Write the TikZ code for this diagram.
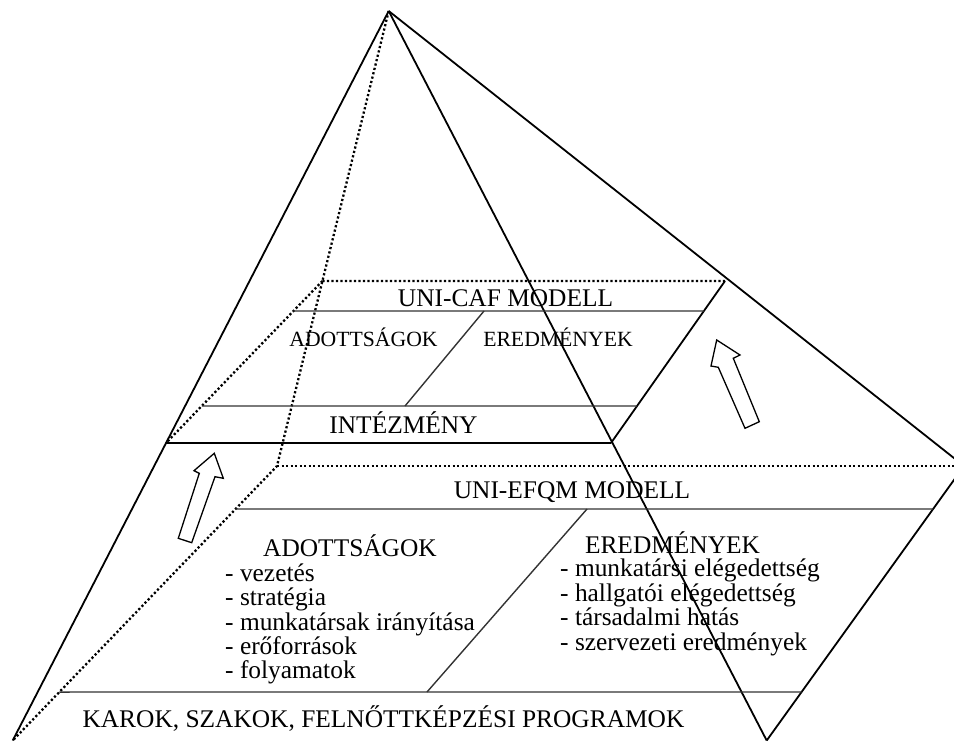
\documentclass[tikz,border=0pt]{standalone}
\usepackage{fontspec}
\setmainfont{Liberation Serif}
\begin{document}
\begin{tikzpicture}[x=1pt,y=-1pt,
  edge/.style={line width=1.8pt, line join=miter},
  inner/.style={line width=1.4pt, black!80},
  dotline/.style={line width=2.3pt, dash pattern=on 2.2pt off 2.3pt},
  blockarrow/.style={line width=1.3pt, fill=white, line join=miter},
  big/.style={font=\fontsize{25.4}{30}\selectfont, inner sep=0pt, anchor=base},
  small/.style={font=\fontsize{21.7}{26}\selectfont, inner sep=0pt, anchor=base},
  item/.style={font=\fontsize{25.4}{30}\selectfont, inner sep=0pt, anchor=base west}]
\useasboundingbox (0,0) rectangle (954,742);
\clip (0,0) rectangle (954,742);
% vertices
\coordinate (A) at (388.7,11);
\coordinate (FL) at (12.7,740.5);
\coordinate (FR) at (766.7,740.5);
\coordinate (R) at (964,466);
\coordinate (D3) at (277,466);
\coordinate (D1) at (intersection of A--D3 and 0,281--900,281);
\coordinate (D2) at (725,281);
\coordinate (E1) at (intersection of A--FL and 0,443--900,443);
\coordinate (E2) at (611,443);
% pyramid edges
\draw[edge] (A) -- (FL);
\draw[edge] (A) -- (FR);
\draw[edge] (A) -- (R) -- (FR);
\draw[dotline] (A) -- (D3) -- (FL);
\draw[dotline] (D3) -- (R);
% upper slice
\draw[dotline] (D1) -- (D2);
\draw[dotline] (D1) -- (E1);
\draw[edge] (D2) -- (E2);
\draw[inner] (intersection of D1--E1 and 0,311--900,311) -- (intersection of D2--E2 and 0,311--900,311);
\draw[inner] (intersection of D1--E1 and 0,406--900,406) -- (intersection of D2--E2 and 0,406--900,406);
\draw[edge] (E1) -- (E2);
\draw[inner] (484,311) -- (405,406);
% lower slice
\draw[inner] (intersection of D3--FL and 0,509--900,509) -- (intersection of R--FR and 0,509--900,509);
\draw[inner] (intersection of D3--FL and 0,692--900,692) -- (intersection of R--FR and 0,692--900,692);
\draw[inner] (587,509) -- (427,692);
% block arrows
\draw[blockarrow] (214.3,453.3) -- (223.3,478.3) -- (215,476.7) -- (191.7,542.7) -- (178.3,538.3) -- (199.3,473.3) -- (194,470.7) -- cycle;
\draw[blockarrow] (716.7,340) -- (740,355) -- (733.3,358.3) -- (759.3,421.7) -- (745,428.3) -- (718.3,367.3) -- (711,366) -- cycle;
% texts
\node[big] (caf) at (505.5,306.5) {UNI-CAF MODELL};
\node[small] (adU) at (363.5,346.5) {ADOTTSÁGOK};
\node[small] (erU) at (558,346.5) {EREDMÉNYEK};
\node[big] (int) at (403.5,433) {INTÉZMÉNY};
\node[big] (efqm) at (572,498.3) {UNI-EFQM MODELL};
\node[big] (adL) at (350,556.7) {ADOTTSÁGOK};
\node[item] (a1) at (225,581.7) {- vezetés};
\node[item] (a2) at (225,605.7) {- stratégia};
\node[item] (a3) at (225,630) {- munkatársak irányítása};
\node[item] (a4) at (225,654) {- erőforrások};
\node[item] (a5) at (225,678) {- folyamatok};
\node[big] (erL) at (672.5,553.3) {EREDMÉNYEK};
\node[item] (e1) at (560,576.7) {- munkatársi elégedettség};
\node[item] (e2) at (560,601.7) {- hallgatói elégedettség};
\node[item] (e3) at (560,625.7) {- társadalmi hatás};
\node[item] (e4) at (560,650.5) {- szervezeti eredmények};
\node[big] (karok) at (383.5,727) {KAROK, SZAKOK, FELNŐTTKÉPZÉSI PROGRAMOK};
\end{tikzpicture}
\end{document}
